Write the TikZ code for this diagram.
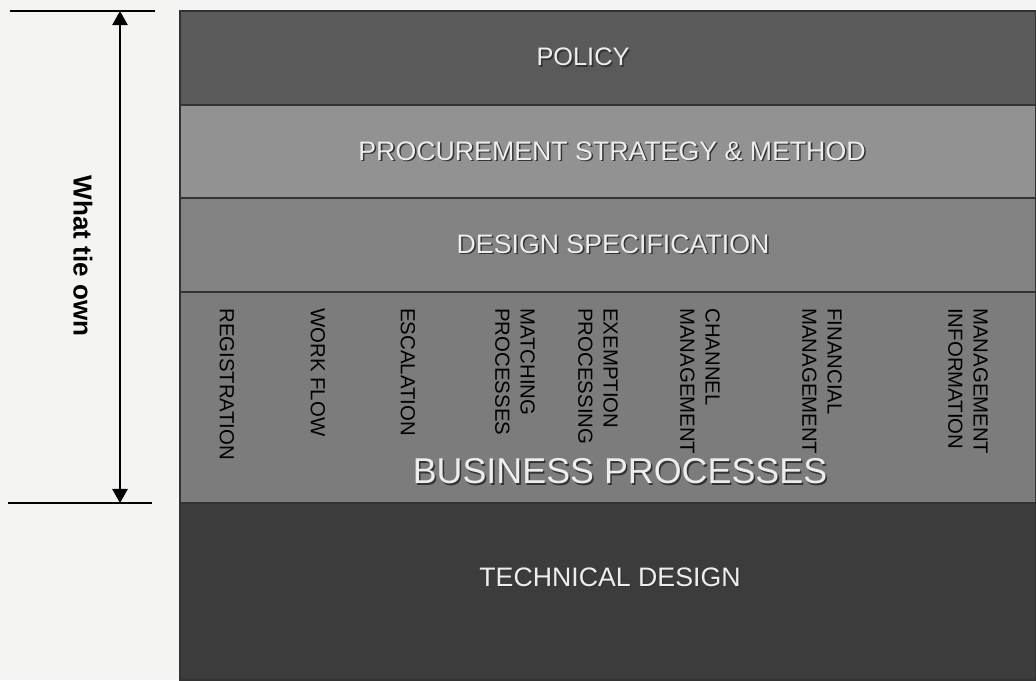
\documentclass[tikz,border=0pt]{standalone}
\usepackage{fontspec}
\setmainfont{Liberation Sans}
\usetikzlibrary{arrows.meta}

\definecolor{paper}{RGB}{244,244,242}
\definecolor{policygray}{RGB}{90,90,90}
\definecolor{procgray}{RGB}{146,146,146}
\definecolor{designgray}{RGB}{130,130,130}
\definecolor{busgray}{RGB}{124,124,124}
\definecolor{techgray}{RGB}{60,60,60}

% white lettering with a dark drop shadow
\newcommand{\embossed}[1]{\rlap{\textcolor{black!80}{\kern1.1pt\raisebox{-1.1pt}{#1}}}#1}

\tikzset{
  layer/.style={draw=black!80, line width=0.8pt},
  layertext/.style={text=white!93!black, inner sep=0pt, font=\fontsize{19}{22}\selectfont},
  task/.style={rotate=-90, anchor=west, align=left, inner sep=0pt, text=black,
    font=\fontsize{14.5}{17.8}\selectfont},
}

\begin{document}
\begin{tikzpicture}[x=0.025cm, y=-0.025cm]
  \useasboundingbox (0,0) rectangle (1036,680);
  \fill[paper] (0,0) rectangle (1036,680);

  % the layers, top to bottom
  \draw[layer, fill=policygray] (180,11) rectangle (1036,105);
  \draw[layer, fill=procgray] (180,105) rectangle (1036,198);
  \draw[layer, fill=designgray] (180,198) rectangle (1036,292);
  \draw[layer, fill=busgray] (180,292) rectangle (1036,503);
  \draw[layer, fill=techgray] (180,503) rectangle (1036,680);

  \node[layertext, font=\fontsize{18}{22}\selectfont] (policy) at (583,58) {\embossed{POLICY}};
  \node[layertext] (procurement) at (612,152) {\embossed{PROCUREMENT STRATEGY \& METHOD}};
  \node[layertext] (designspec) at (613,245) {\embossed{DESIGN SPECIFICATION}};
  \node[layertext, font=\fontsize{25.5}{30}\selectfont] (business) at (620,472) {\embossed{BUSINESS PROCESSES}};
  \node[layertext] (technical) at (610,578) {\embossed{TECHNICAL DESIGN}};

  % processes inside the business layer
  \node[task] (registration) at (227,308) {REGISTRATION};
  \node[task] (workflow) at (318,308) {WORK FLOW};
  \node[task] (escalation) at (408,308) {ESCALATION};
  \node[task] (matching) at (515,308) {MATCHING\\PROCESSES};
  \node[task] (exemption) at (598,308) {EXEMPTION\\PROCESSING};
  \node[task] (channel) at (700,308) {CHANNEL\\MANAGEMENT};
  \node[task] (financial) at (822,308) {FINANCIAL\\MANAGEMENT};
  \node[task] (mi) at (968,308) {MANAGEMENT\\INFORMATION};

  % span marker on the left
  \coordinate (spantop) at (120,11);
  \coordinate (spanbot) at (120,503);
  \draw[line width=0.9pt] (10,11) -- (155,11);
  \draw[line width=0.9pt] (8,503) -- (152,503);
  \draw[line width=0.8pt, {Triangle[width=11pt,length=10pt]}-{Triangle[width=11pt,length=10pt]}] (spantop) -- (spanbot);
  \node[rotate=-90, inner sep=0pt, font=\bfseries\fontsize{18.5}{22}\selectfont] (whattie) at (83,256) {What tie own};
\end{tikzpicture}
\end{document}
